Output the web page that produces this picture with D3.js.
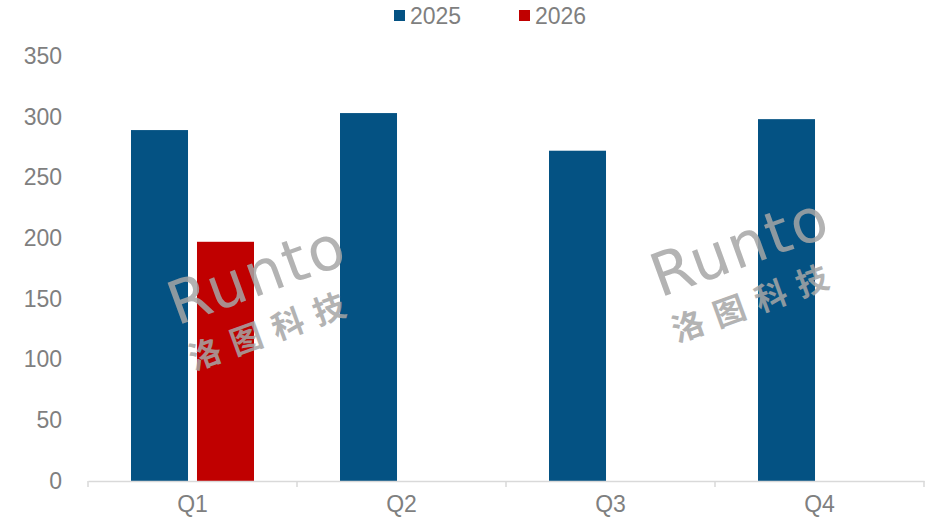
<!DOCTYPE html>
<html>
<head>
<meta charset="utf-8">
<script src="https://cdn.jsdelivr.net/npm/d3@7"></script>
<style>
  body { margin: 0; background: #fff; }
  svg { font-family: "Liberation Sans", Arial, sans-serif; }
</style>
</head>
<body>
<div id="chart"></div>
<script>
const quarters = ["Q1", "Q2", "Q3", "Q4"];
const seriesNames = ["2025", "2026"];
const values2025 = [289, 303, 272, 298];
const values2026 = [197, null, null, null];
const yTicks = [0, 50, 100, 150, 200, 250, 300, 350];
const colors = ["#045283", "#c00000"];

const w = 939, h = 522;
const margin = {top: 56, right: 15, bottom: 41, left: 88};
const innerW = w - margin.left - margin.right;
const innerH = h - margin.top - margin.bottom;

const svg = d3.select("#chart").append("svg")
    .attr("width", w)
    .attr("height", h);

const g = svg.append("g")
    .attr("transform", "translate(" + margin.left + "," + margin.top + ")");

const x = d3.scaleBand().domain(quarters).range([0, innerW]);
const x1 = d3.scaleBand().domain(seriesNames).range([0, 123]).paddingInner(0.136);
const y = d3.scaleLinear().domain([0, 350]).range([innerH, 0]);

// y labels, no axis line
const yAxis = g.append("g")
    .call(d3.axisLeft(y).tickValues(yTicks).tickSize(0).tickPadding(26));
yAxis.select(".domain").remove();
yAxis.selectAll("text")
    .attr("fill", "#7f7f7f")
    .style("font-size", "23px");

// bars
const data = [];
quarters.forEach((q, i) => {
    [values2025[i], values2026[i]].forEach((v, j) => {
        if (v != null) data.push({q: q, s: seriesNames[j], v: v, c: colors[j]});
    });
});
const groupOff = (x.bandwidth() - 123) / 2;
g.selectAll("rect.bar")
    .data(data)
    .enter()
    .append("rect")
        .attr("class", "bar")
        .attr("x", d => x(d.q) + groupOff + x1(d.s))
        .attr("y", d => y(d.v))
        .attr("width", x1.bandwidth())
        .attr("height", d => innerH - y(d.v))
        .attr("fill", d => d.c);

// x axis
const xAxis = g.append("g")
    .attr("transform", "translate(0," + innerH + ")")
    .call(d3.axisBottom(x).tickSize(0).tickPadding(15));
xAxis.select(".domain").attr("stroke", "#d9d9d9").attr("stroke-width", 1.5);
xAxis.selectAll("text")
    .attr("fill", "#7f7f7f")
    .style("font-size", "23px");
// tick marks between categories
const bounds = quarters.map(q => x(q)).concat([innerW]);
xAxis.selectAll("line.bound")
    .data(bounds)
    .enter()
    .append("line")
        .attr("class", "bound")
        .attr("x1", d => d).attr("x2", d => d)
        .attr("y1", 0).attr("y2", 6)
        .attr("stroke", "#d9d9d9")
        .attr("stroke-width", 1.5);

// watermarks
function watermark(cx, cy) {
    const wm = svg.append("g")
        .attr("transform", "translate(" + cx + "," + cy + ") rotate(-20)")
        .attr("fill", "#a6a6a6")
        .attr("opacity", 0.85);
    wm.append("text")
        .attr("x", 0).attr("y", 0)
        .attr("text-anchor", "middle")
        .style("font-size", "60px")
        .style("font-family", "'DejaVu Sans', sans-serif")
        .style("letter-spacing", "2px")
        .text("Runto");
    wm.append("text")
        .attr("x", -4).attr("y", 48)
        .attr("text-anchor", "middle")
        .style("font-size", "32px")
        .style("font-weight", "bold")
        .style("letter-spacing", "12px")
        .style("font-family", "'Noto Sans CJK SC', sans-serif")
        .text("洛图科技");
}
watermark(264, 294);
watermark(747, 266);

// legend
const legend = svg.append("g");
const legX = [394, 519];
seriesNames.forEach((s, i) => {
    legend.append("rect")
        .attr("x", legX[i]).attr("y", 10)
        .attr("width", 11).attr("height", 11)
        .attr("fill", colors[i]);
    legend.append("text")
        .attr("x", legX[i] + 16).attr("y", 24)
        .attr("fill", "#7f7f7f")
        .style("font-size", "23px")
        .text(s);
});
</script>
</body>
</html>
